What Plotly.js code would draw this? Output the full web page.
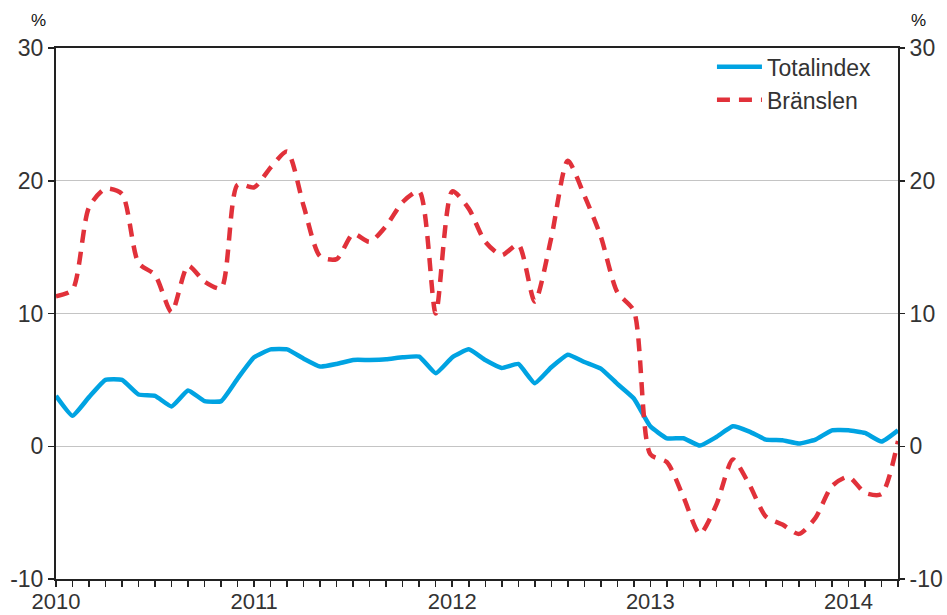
<!DOCTYPE html>
<html>
<head>
<meta charset="utf-8">
<script src="https://cdn.plot.ly/plotly-3.0.1.min.js"></script>
<style>html,body{margin:0;padding:0;background:#fff;}#chart{width:947px;height:615px;}</style>
</head>
<body>
<div id="chart"></div>
<script>
var months = [
  '2010M01','2010M02','2010M03','2010M04','2010M05','2010M06','2010M07','2010M08','2010M09','2010M10','2010M11','2010M12',
  '2011M01','2011M02','2011M03','2011M04','2011M05','2011M06','2011M07','2011M08','2011M09','2011M10','2011M11','2011M12',
  '2012M01','2012M02','2012M03','2012M04','2012M05','2012M06','2012M07','2012M08','2012M09','2012M10','2012M11','2012M12',
  '2013M01','2013M02','2013M03','2013M04','2013M05','2013M06','2013M07','2013M08','2013M09','2013M10','2013M11','2013M12',
  '2014M01','2014M02','2014M03','2014M04'
];
var totalindex = [3.8, 2.3, 3.7, 5.0, 5.0, 3.9, 3.8, 3.0, 4.2, 3.4, 3.4, 5.1,
  6.7, 7.3, 7.3, 6.6, 6.0, 6.2, 6.5, 6.5, 6.55, 6.7, 6.75, 5.5,
  6.7, 7.3, 6.5, 5.9, 6.2, 4.75, 5.95, 6.9, 6.35, 5.85, 4.7, 3.6,
  1.5, 0.6, 0.6, 0.05, 0.7, 1.5, 1.1, 0.5, 0.45, 0.2, 0.5, 1.2,
  1.2, 1.0, 0.35, 1.2];
var branslen = [11.3, 11.8, 18.0, 19.4, 19.0, 13.8, 12.9, 10.1, 13.6, 12.4, 11.9, 19.7,
  19.5, 21.0, 22.2, 18.1, 14.3, 14.1, 16.0, 15.4, 16.6, 18.4, 19.2, 10.0,
  19.2, 17.9, 15.4, 14.4, 15.2, 10.9, 15.7, 21.5, 18.9, 15.8, 11.6, 10.2,
  -0.6, -1.2, -3.8, -6.6, -4.4, -1.0, -2.9, -5.3, -5.9, -6.6, -5.4, -3.0,
  -2.3, -3.5, -3.6, 0.4];
var yearLabels = {'2010M01':'2010','2011M01':'2011','2012M01':'2012','2013M01':'2013','2014M01':'2014'};
var seriesNames = ['Totalindex', 'Bränslen'];
var yTickVals = [-10, 0, 10, 20, 30];
var yTickText = ['-10', '0', '10', '20', '30'];

var tickText = months.map(function(m){ return yearLabels[m] || ''; });
var fontFam = '"Liberation Sans", Arial, sans-serif';
var txtCol = '#333333';

var traces = [
  {x: months, y: totalindex, name: seriesNames[0], type: 'scatter', mode: 'lines',
   line: {color: '#00a3e2', width: 4.5, shape: 'spline', smoothing: 0.4}},
  {x: months, y: branslen, name: seriesNames[1], type: 'scatter', mode: 'lines',
   line: {color: '#e1313a', width: 4.5, dash: '13px,9px', shape: 'spline', smoothing: 0.7}},
  {x: months, y: totalindex, yaxis: 'y2', type: 'scatter', mode: 'lines', showlegend: false,
   hoverinfo: 'skip', opacity: 0, line: {width: 0}}
];

var layout = {
  width: 947, height: 615,
  margin: {l: 56, r: 49, t: 48, b: 36},
  paper_bgcolor: '#ffffff', plot_bgcolor: '#ffffff',
  font: {family: fontFam, size: 23, color: txtCol},
  showlegend: true,
  legend: {x: 0.975, xanchor: 'right', y: 1.005, yanchor: 'top', bgcolor: 'rgba(0,0,0,0)',
           font: {family: fontFam, size: 23, color: txtCol}, tracegroupgap: 0, itemwidth: 45,
           borderwidth: 0},
  xaxis: {type: 'category', categoryorder: 'array', categoryarray: months,
          range: [0, months.length - 1], tickvals: months, ticktext: tickText,
          ticks: 'outside', ticklen: 6, tickwidth: 1.5, tickcolor: '#222',
          showline: true, linecolor: '#222', linewidth: 2, mirror: true,
          showgrid: false, zeroline: false, tickangle: 0, ticklabelstandoff: -4,
          tickfont: {family: fontFam, size: 22, color: txtCol}},
  yaxis: {range: [-10, 30], tickvals: yTickVals, ticktext: yTickText, ticks: 'outside', ticklen: 6,
          tickwidth: 1.5, tickcolor: '#222', showline: true, linecolor: '#222', linewidth: 2,
          mirror: true, showgrid: true, gridcolor: '#c4c4c4', gridwidth: 1.2, zeroline: false,
          tickfont: {family: fontFam, size: 23, color: txtCol}},
  yaxis2: {range: [-10, 30], tickvals: yTickVals, ticktext: yTickText, overlaying: 'y', side: 'right',
           ticks: 'outside', ticklen: 6, tickwidth: 1.5, tickcolor: '#222', showline: false,
           showgrid: false, zeroline: false,
           tickfont: {family: fontFam, size: 23, color: txtCol}},
  annotations: [
    {text: '%', xref: 'paper', yref: 'paper', x: 0, y: 1, xshift: -18, yshift: 28,
     showarrow: false, font: {family: fontFam, size: 17, color: '#111'}, xanchor: 'center', yanchor: 'middle'},
    {text: '%', xref: 'paper', yref: 'paper', x: 1, y: 1, xshift: 20, yshift: 28,
     showarrow: false, font: {family: fontFam, size: 17, color: '#111'}, xanchor: 'center', yanchor: 'middle'}
  ]
};

Plotly.newPlot('chart', traces, layout, {displayModeBar: false, staticPlot: true});
</script>
</body>
</html>
